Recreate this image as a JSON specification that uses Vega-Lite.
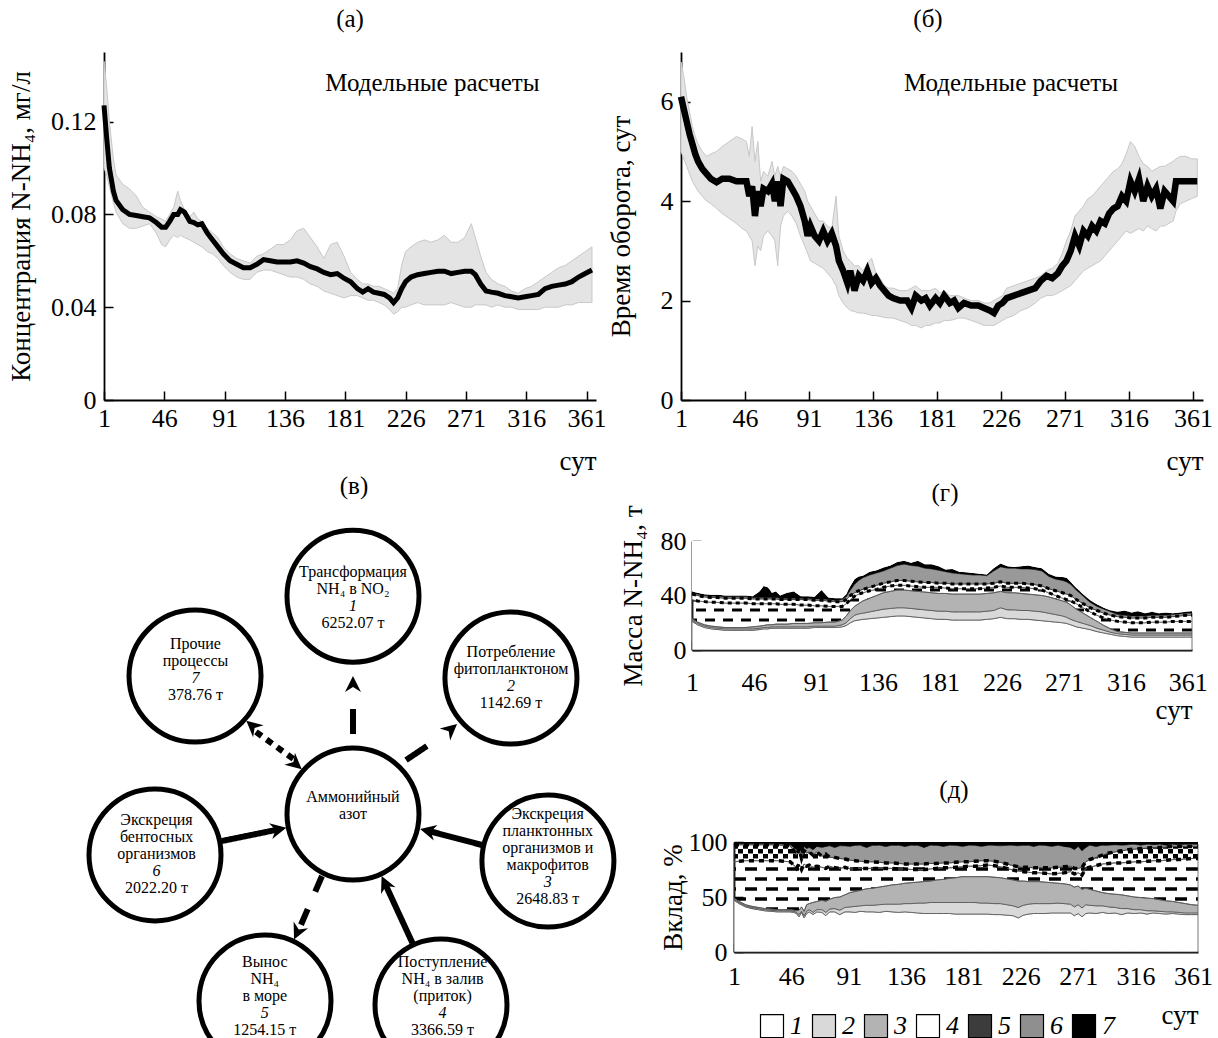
{
"$schema": "https://vega.github.io/schema/vega-lite/v6.json",
"background": "white",
"padding": {"left": 7, "top": 7, "right": 5, "bottom": 5},
"config": {
 "view": {"stroke": null},
 "font": "Liberation Serif",
 "axis": {"domainColor": "black", "domainWidth": 1.8, "tickColor": "black", "tickWidth": 1.5, "tickSize": -9, "labelFont": "Liberation Serif", "labelFontSize": 26, "labelColor": "black", "titleFont": "Liberation Serif", "titleFontSize": 27, "titleFontWeight": "normal", "titleColor": "black", "grid": false, "labelFlush": false, "labelOverlap": false, "labelBound": false},
 "title": {"font": "Liberation Serif", "fontSize": 25, "fontWeight": "normal", "color": "black", "frame": "group", "anchor": "middle"},
 "text": {"font": "Liberation Serif", "color": "black"}
},
"datasets": {
 "a": [
  {"d":1,"m":0.127,"lo":0.100,"hi":0.146},{"d":3,"m":0.113,"lo":0.097,"hi":0.135},{"d":5,"m":0.100,"lo":0.092,"hi":0.120},{"d":8,"m":0.090,"lo":0.085,"hi":0.104},{"d":10,"m":0.086,"lo":0.081,"hi":0.097},{"d":15,"m":0.082,"lo":0.076,"hi":0.093},{"d":20,"m":0.080,"lo":0.074,"hi":0.091},{"d":25,"m":0.0795,"lo":0.074,"hi":0.088},{"d":30,"m":0.079,"lo":0.075,"hi":0.083},{"d":35,"m":0.0785,"lo":0.076,"hi":0.081},{"d":40,"m":0.0765,"lo":0.072,"hi":0.079},{"d":44,"m":0.0745,"lo":0.067,"hi":0.078},{"d":47,"m":0.0745,"lo":0.066,"hi":0.077},{"d":50,"m":0.077,"lo":0.069,"hi":0.080},{"d":53,"m":0.080,"lo":0.071,"hi":0.083},{"d":56,"m":0.080,"lo":0.070,"hi":0.090},{"d":58,"m":0.082,"lo":0.071,"hi":0.086},{"d":61,"m":0.081,"lo":0.070,"hi":0.082},{"d":65,"m":0.077,"lo":0.069,"hi":0.079},{"d":68,"m":0.0765,"lo":0.068,"hi":0.081},{"d":71,"m":0.0755,"lo":0.067,"hi":0.078},{"d":74,"m":0.076,"lo":0.066,"hi":0.077},{"d":78,"m":0.072,"lo":0.064,"hi":0.074},{"d":82,"m":0.069,"lo":0.063,"hi":0.072},{"d":86,"m":0.066,"lo":0.061,"hi":0.070},{"d":90,"m":0.063,"lo":0.058,"hi":0.066},{"d":95,"m":0.060,"lo":0.055,"hi":0.063},{"d":100,"m":0.0585,"lo":0.053,"hi":0.061},{"d":105,"m":0.057,"lo":0.052,"hi":0.060},{"d":110,"m":0.057,"lo":0.052,"hi":0.059},{"d":115,"m":0.0585,"lo":0.055,"hi":0.062},{"d":120,"m":0.0605,"lo":0.056,"hi":0.063},{"d":125,"m":0.060,"lo":0.056,"hi":0.065},{"d":130,"m":0.0595,"lo":0.055,"hi":0.067},{"d":135,"m":0.0595,"lo":0.054,"hi":0.067},{"d":140,"m":0.0595,"lo":0.053,"hi":0.069},{"d":145,"m":0.060,"lo":0.053,"hi":0.073},{"d":150,"m":0.059,"lo":0.052,"hi":0.074},{"d":155,"m":0.0575,"lo":0.050,"hi":0.070},{"d":160,"m":0.0565,"lo":0.049,"hi":0.066},{"d":165,"m":0.055,"lo":0.047,"hi":0.061},{"d":170,"m":0.054,"lo":0.046,"hi":0.067},{"d":175,"m":0.0545,"lo":0.045,"hi":0.068},{"d":180,"m":0.0525,"lo":0.044,"hi":0.062},{"d":185,"m":0.051,"lo":0.045,"hi":0.055},{"d":190,"m":0.048,"lo":0.045,"hi":0.052},{"d":194,"m":0.0465,"lo":0.044,"hi":0.050},{"d":198,"m":0.048,"lo":0.043,"hi":0.050},{"d":202,"m":0.0465,"lo":0.043,"hi":0.049},{"d":206,"m":0.046,"lo":0.042,"hi":0.049},{"d":210,"m":0.0455,"lo":0.041,"hi":0.048},{"d":214,"m":0.044,"lo":0.039,"hi":0.047},{"d":217,"m":0.042,"lo":0.037,"hi":0.046},{"d":220,"m":0.044,"lo":0.038,"hi":0.048},{"d":223,"m":0.048,"lo":0.040,"hi":0.058},{"d":226,"m":0.051,"lo":0.040,"hi":0.064},{"d":230,"m":0.053,"lo":0.041,"hi":0.066},{"d":235,"m":0.054,"lo":0.042,"hi":0.068},{"d":240,"m":0.0545,"lo":0.041,"hi":0.069},{"d":245,"m":0.055,"lo":0.041,"hi":0.068},{"d":250,"m":0.0555,"lo":0.041,"hi":0.069},{"d":255,"m":0.0555,"lo":0.041,"hi":0.071},{"d":260,"m":0.0545,"lo":0.042,"hi":0.068},{"d":265,"m":0.055,"lo":0.041,"hi":0.068},{"d":270,"m":0.0555,"lo":0.040,"hi":0.070},{"d":275,"m":0.0555,"lo":0.040,"hi":0.076},{"d":278,"m":0.054,"lo":0.041,"hi":0.070},{"d":282,"m":0.050,"lo":0.041,"hi":0.062},{"d":286,"m":0.047,"lo":0.041,"hi":0.055},{"d":290,"m":0.0465,"lo":0.040,"hi":0.052},{"d":295,"m":0.046,"lo":0.041,"hi":0.050},{"d":300,"m":0.045,"lo":0.040,"hi":0.049},{"d":305,"m":0.0445,"lo":0.040,"hi":0.047},{"d":310,"m":0.044,"lo":0.039,"hi":0.046},{"d":315,"m":0.0445,"lo":0.039,"hi":0.048},{"d":320,"m":0.045,"lo":0.039,"hi":0.049},{"d":325,"m":0.0455,"lo":0.039,"hi":0.051},{"d":330,"m":0.048,"lo":0.040,"hi":0.053},{"d":335,"m":0.049,"lo":0.040,"hi":0.055},{"d":340,"m":0.0495,"lo":0.040,"hi":0.057},{"d":345,"m":0.050,"lo":0.041,"hi":0.058},{"d":350,"m":0.051,"lo":0.041,"hi":0.060},{"d":355,"m":0.053,"lo":0.042,"hi":0.062},{"d":360,"m":0.0545,"lo":0.042,"hi":0.064},{"d":365,"m":0.056,"lo":0.042,"hi":0.066}
 ],
 "b": [
  {"d":1,"m":6.1,"lo":5.0,"hi":6.8},{"d":3,"m":5.85,"lo":4.85,"hi":6.5},{"d":5,"m":5.6,"lo":4.7,"hi":6.1},{"d":7,"m":5.35,"lo":4.55,"hi":5.8},{"d":9,"m":5.15,"lo":4.4,"hi":5.5},{"d":11,"m":4.95,"lo":4.3,"hi":5.3},{"d":13,"m":4.8,"lo":4.2,"hi":5.15},{"d":16,"m":4.65,"lo":4.1,"hi":5.0},{"d":19,"m":4.55,"lo":4.0,"hi":4.9},{"d":22,"m":4.45,"lo":3.95,"hi":4.95},{"d":26,"m":4.38,"lo":3.85,"hi":5.0},{"d":30,"m":4.45,"lo":3.75,"hi":5.1},{"d":35,"m":4.45,"lo":3.65,"hi":5.2},{"d":40,"m":4.4,"lo":3.55,"hi":5.3},{"d":44,"m":4.4,"lo":3.45,"hi":5.25},{"d":47,"m":4.4,"lo":3.4,"hi":5.2},{"d":49,"m":4.1,"lo":3.3,"hi":4.9},{"d":51,"m":4.3,"lo":3.2,"hi":5.5},{"d":53,"m":3.7,"lo":2.7,"hi":4.8},{"d":55,"m":4.2,"lo":3.1,"hi":5.2},{"d":57,"m":3.9,"lo":3.0,"hi":4.4},{"d":59,"m":4.25,"lo":3.3,"hi":4.6},{"d":62,"m":4.2,"lo":3.4,"hi":4.5},{"d":65,"m":4.35,"lo":3.3,"hi":4.8},{"d":67,"m":4.0,"lo":3.2,"hi":4.5},{"d":69,"m":4.4,"lo":2.7,"hi":4.7},{"d":71,"m":3.9,"lo":3.5,"hi":4.5},{"d":73,"m":4.45,"lo":3.7,"hi":4.7},{"d":76,"m":4.4,"lo":3.8,"hi":4.65},{"d":79,"m":4.25,"lo":3.7,"hi":4.6},{"d":82,"m":4.1,"lo":3.55,"hi":4.5},{"d":85,"m":3.9,"lo":3.3,"hi":4.35},{"d":88,"m":3.6,"lo":3.1,"hi":4.2},{"d":90,"m":3.3,"lo":2.95,"hi":4.0},{"d":92,"m":3.5,"lo":2.8,"hi":3.9},{"d":95,"m":3.3,"lo":2.75,"hi":3.75},{"d":98,"m":3.2,"lo":2.7,"hi":3.6},{"d":101,"m":3.4,"lo":2.65,"hi":3.6},{"d":104,"m":3.2,"lo":2.55,"hi":3.5},{"d":107,"m":3.35,"lo":2.45,"hi":3.45},{"d":110,"m":3.1,"lo":2.3,"hi":4.1},{"d":112,"m":2.8,"lo":2.1,"hi":3.3},{"d":115,"m":2.6,"lo":1.95,"hi":3.0},{"d":118,"m":2.35,"lo":1.85,"hi":2.85},{"d":120,"m":2.6,"lo":1.8,"hi":2.8},{"d":123,"m":2.2,"lo":1.78,"hi":2.7},{"d":126,"m":2.5,"lo":1.75,"hi":2.7},{"d":129,"m":2.4,"lo":1.75,"hi":2.6},{"d":132,"m":2.6,"lo":1.73,"hi":2.75},{"d":135,"m":2.35,"lo":1.7,"hi":2.85},{"d":138,"m":2.45,"lo":1.7,"hi":2.55},{"d":141,"m":2.3,"lo":1.68,"hi":2.45},{"d":144,"m":2.2,"lo":1.66,"hi":2.3},{"d":147,"m":2.1,"lo":1.65,"hi":2.25},{"d":150,"m":2.05,"lo":1.65,"hi":2.25},{"d":155,"m":2.0,"lo":1.6,"hi":2.2},{"d":160,"m":2.0,"lo":1.55,"hi":2.2},{"d":163,"m":1.85,"lo":1.5,"hi":2.25},{"d":166,"m":2.1,"lo":1.5,"hi":2.3},{"d":170,"m":2.0,"lo":1.45,"hi":2.2},{"d":173,"m":2.05,"lo":1.5,"hi":2.2},{"d":176,"m":1.9,"lo":1.5,"hi":2.2},{"d":180,"m":2.05,"lo":1.55,"hi":2.25},{"d":183,"m":1.95,"lo":1.55,"hi":2.15},{"d":186,"m":2.1,"lo":1.6,"hi":2.2},{"d":190,"m":1.95,"lo":1.6,"hi":2.1},{"d":193,"m":2.0,"lo":1.62,"hi":2.1},{"d":196,"m":1.85,"lo":1.65,"hi":2.1},{"d":200,"m":1.95,"lo":1.65,"hi":2.05},{"d":205,"m":1.9,"lo":1.6,"hi":2.0},{"d":210,"m":1.9,"lo":1.55,"hi":2.0},{"d":214,"m":1.85,"lo":1.5,"hi":1.95},{"d":218,"m":1.8,"lo":1.5,"hi":1.95},{"d":221,"m":1.75,"lo":1.5,"hi":2.0},{"d":224,"m":1.9,"lo":1.55,"hi":2.05},{"d":227,"m":1.95,"lo":1.6,"hi":2.1},{"d":230,"m":2.05,"lo":1.65,"hi":2.25},{"d":235,"m":2.1,"lo":1.7,"hi":2.3},{"d":240,"m":2.15,"lo":1.8,"hi":2.35},{"d":245,"m":2.2,"lo":1.85,"hi":2.4},{"d":250,"m":2.25,"lo":1.95,"hi":2.45},{"d":254,"m":2.4,"lo":2.05,"hi":2.5},{"d":258,"m":2.5,"lo":2.1,"hi":2.6},{"d":262,"m":2.45,"lo":2.1,"hi":2.65},{"d":266,"m":2.55,"lo":2.15,"hi":2.75},{"d":269,"m":2.7,"lo":2.2,"hi":2.95},{"d":272,"m":2.8,"lo":2.25,"hi":3.2},{"d":275,"m":3.0,"lo":2.3,"hi":3.4},{"d":278,"m":3.3,"lo":2.4,"hi":3.7},{"d":281,"m":3.1,"lo":2.5,"hi":3.8},{"d":284,"m":3.4,"lo":2.6,"hi":3.9},{"d":287,"m":3.3,"lo":2.65,"hi":4.05},{"d":290,"m":3.5,"lo":2.7,"hi":4.1},{"d":293,"m":3.4,"lo":2.75,"hi":4.2},{"d":296,"m":3.6,"lo":2.8,"hi":4.3},{"d":299,"m":3.55,"lo":2.9,"hi":4.4},{"d":302,"m":3.75,"lo":3.0,"hi":4.5},{"d":305,"m":3.85,"lo":3.1,"hi":4.6},{"d":308,"m":3.9,"lo":3.2,"hi":4.65},{"d":311,"m":4.1,"lo":3.3,"hi":4.75},{"d":314,"m":4.0,"lo":3.4,"hi":4.95},{"d":317,"m":4.4,"lo":3.35,"hi":5.2},{"d":320,"m":4.2,"lo":3.4,"hi":5.1},{"d":323,"m":4.45,"lo":3.45,"hi":4.9},{"d":326,"m":4.0,"lo":3.4,"hi":4.75},{"d":329,"m":4.3,"lo":3.5,"hi":4.7},{"d":332,"m":4.1,"lo":3.45,"hi":4.6},{"d":335,"m":4.25,"lo":3.4,"hi":4.65},{"d":338,"m":3.85,"lo":3.5,"hi":4.7},{"d":341,"m":4.2,"lo":3.5,"hi":4.7},{"d":344,"m":4.1,"lo":3.55,"hi":4.75},{"d":347,"m":4.0,"lo":3.6,"hi":4.8},{"d":349,"m":4.4,"lo":3.8,"hi":4.85},{"d":352,"m":4.4,"lo":3.95,"hi":4.9},{"d":356,"m":4.4,"lo":4.0,"hi":4.9},{"d":360,"m":4.4,"lo":4.05,"hi":4.85},{"d":364,"m":4.4,"lo":4.1,"hi":4.85}
 ],
 "g": [
  {"d":1,"b1":21,"b2":22,"b3":23,"b4":37,"b5":41,"b6":42,"b7":43},{"d":5,"b1":18.5,"b2":19.5,"b3":20.5,"b4":36,"b5":40,"b6":41,"b7":42},{"d":10,"b1":16.5,"b2":17.5,"b3":18.5,"b4":35.5,"b5":39,"b6":40,"b7":41},{"d":15,"b1":15.5,"b2":16.5,"b3":17.5,"b4":35,"b5":38.5,"b6":39.5,"b7":40.5},{"d":20,"b1":15,"b2":16,"b3":17,"b4":35,"b5":38.5,"b6":39.5,"b7":40.5},{"d":25,"b1":14.5,"b2":15.5,"b3":16.5,"b4":34.5,"b5":38,"b6":39,"b7":40},{"d":30,"b1":14.5,"b2":15.5,"b3":16.5,"b4":34.5,"b5":38,"b6":39,"b7":40},{"d":35,"b1":14.5,"b2":15.5,"b3":16.5,"b4":34.5,"b5":38,"b6":39,"b7":40},{"d":40,"b1":14.5,"b2":15.5,"b3":16.5,"b4":34.5,"b5":38,"b6":39,"b7":40},{"d":45,"b1":14.5,"b2":15.5,"b3":17,"b4":34,"b5":37.5,"b6":38.5,"b7":39.5},{"d":50,"b1":15,"b2":16,"b3":17.5,"b4":34,"b5":37.5,"b6":38.5,"b7":43},{"d":53,"b1":15.5,"b2":16.5,"b3":18,"b4":34,"b5":37.5,"b6":38.5,"b7":47},{"d":56,"b1":15.5,"b2":16.5,"b3":18.5,"b4":34,"b5":37.5,"b6":38.5,"b7":46},{"d":59,"b1":16,"b2":17,"b3":18.5,"b4":34,"b5":37.5,"b6":38.5,"b7":42},{"d":62,"b1":16,"b2":17,"b3":19,"b4":34,"b5":37.5,"b6":38.5,"b7":43},{"d":65,"b1":16,"b2":17,"b3":19,"b4":33.5,"b5":37,"b6":38,"b7":40},{"d":70,"b1":16,"b2":17,"b3":19,"b4":33.5,"b5":37,"b6":38,"b7":42},{"d":75,"b1":16,"b2":17,"b3":19.5,"b4":33.5,"b5":37,"b6":38,"b7":43},{"d":80,"b1":16,"b2":17,"b3":19.5,"b4":33,"b5":37,"b6":38,"b7":39.5},{"d":85,"b1":16,"b2":17,"b3":19.5,"b4":33,"b5":37,"b6":38,"b7":39.5},{"d":90,"b1":16.5,"b2":17.5,"b3":20,"b4":32.5,"b5":36.5,"b6":37.5,"b7":39},{"d":95,"b1":16.5,"b2":17.5,"b3":20,"b4":32.5,"b5":36.5,"b6":37.5,"b7":44},{"d":100,"b1":16.5,"b2":17.5,"b3":20.5,"b4":32,"b5":36,"b6":37,"b7":38.5},{"d":105,"b1":16.5,"b2":17.5,"b3":20.5,"b4":32,"b5":35.5,"b6":36.5,"b7":38},{"d":110,"b1":17,"b2":18.5,"b3":22,"b4":32,"b5":35.5,"b6":37,"b7":38},{"d":113,"b1":18,"b2":20,"b3":25,"b4":34,"b5":37,"b6":39,"b7":41},{"d":116,"b1":20,"b2":23,"b3":29,"b4":37,"b5":40,"b6":44,"b7":47},{"d":119,"b1":21.5,"b2":25.5,"b3":32,"b4":39.5,"b5":42,"b6":48,"b7":52},{"d":122,"b1":22,"b2":26.5,"b3":34,"b4":41,"b5":43.5,"b6":51,"b7":54},{"d":125,"b1":22.5,"b2":27,"b3":36,"b4":42,"b5":44.5,"b6":53,"b7":54.5},{"d":130,"b1":23,"b2":28,"b3":38,"b4":43.5,"b5":46,"b6":55,"b7":57.5},{"d":135,"b1":23.5,"b2":29,"b3":40,"b4":44.5,"b5":47.5,"b6":56.5,"b7":58.5},{"d":140,"b1":24,"b2":30,"b3":42,"b4":46,"b5":49,"b6":58,"b7":60.5},{"d":145,"b1":24.5,"b2":30.5,"b3":43,"b4":47,"b5":50,"b6":60,"b7":62},{"d":150,"b1":25,"b2":31,"b3":44,"b4":47.5,"b5":51,"b6":62,"b7":64.5},{"d":155,"b1":25,"b2":31,"b3":44,"b4":47.5,"b5":51,"b6":63,"b7":65.5},{"d":160,"b1":24.5,"b2":30.5,"b3":43.5,"b4":47,"b5":50.5,"b6":62,"b7":64},{"d":165,"b1":24,"b2":30,"b3":43,"b4":46.5,"b5":50,"b6":61.5,"b7":65.5},{"d":170,"b1":23.5,"b2":29.5,"b3":42.5,"b4":46,"b5":49.5,"b6":60,"b7":63},{"d":175,"b1":23,"b2":29,"b3":42,"b4":46,"b5":49.5,"b6":59.5,"b7":63},{"d":180,"b1":22.5,"b2":28.5,"b3":41.5,"b4":46,"b5":49,"b6":58.5,"b7":61.5},{"d":185,"b1":22.5,"b2":28.5,"b3":41.5,"b4":45.5,"b5":49,"b6":57.5,"b7":59},{"d":190,"b1":22,"b2":28,"b3":41,"b4":45,"b5":48.5,"b6":56.5,"b7":59.5},{"d":195,"b1":22,"b2":28,"b3":41,"b4":45,"b5":48.5,"b6":56,"b7":57.5},{"d":200,"b1":22,"b2":28,"b3":41,"b4":45,"b5":48.5,"b6":55.5,"b7":57},{"d":205,"b1":22,"b2":28,"b3":41,"b4":45,"b5":48.5,"b6":55,"b7":56.5},{"d":210,"b1":22,"b2":28,"b3":41,"b4":45,"b5":48.5,"b6":55,"b7":56},{"d":215,"b1":22.5,"b2":28.5,"b3":41.5,"b4":45.5,"b5":48.5,"b6":54.5,"b7":55.5},{"d":220,"b1":23,"b2":29,"b3":42,"b4":46,"b5":49,"b6":58,"b7":60},{"d":225,"b1":24,"b2":31,"b3":43,"b4":47,"b5":50,"b6":61,"b7":63.5},{"d":230,"b1":23,"b2":29.5,"b3":42,"b4":46,"b5":49,"b6":60,"b7":61.5},{"d":235,"b1":23,"b2":29.5,"b3":42,"b4":46,"b5":49,"b6":60,"b7":61},{"d":240,"b1":22.5,"b2":29,"b3":41.5,"b4":46,"b5":49,"b6":59.5,"b7":61.5},{"d":245,"b1":22.5,"b2":29,"b3":41,"b4":45.5,"b5":48.5,"b6":59.5,"b7":62},{"d":250,"b1":22,"b2":28.5,"b3":40.5,"b4":45,"b5":48,"b6":59,"b7":61},{"d":255,"b1":21.5,"b2":28,"b3":40,"b4":44,"b5":47,"b6":58,"b7":60},{"d":260,"b1":21,"b2":27,"b3":39,"b4":42,"b5":45,"b6":54,"b7":56},{"d":265,"b1":20.5,"b2":26,"b3":37.5,"b4":40,"b5":43.5,"b6":52,"b7":54},{"d":270,"b1":20,"b2":25,"b3":36,"b4":38,"b5":42,"b6":51,"b7":53.5},{"d":273,"b1":19.5,"b2":24,"b3":35,"b4":37,"b5":41,"b6":50,"b7":53},{"d":276,"b1":18.5,"b2":22.5,"b3":33,"b4":36,"b5":40,"b6":48,"b7":50},{"d":280,"b1":17,"b2":21,"b3":30,"b4":34,"b5":37,"b6":44,"b7":45.5},{"d":285,"b1":16,"b2":19.5,"b3":27,"b4":31,"b5":34,"b6":39.5,"b7":41},{"d":290,"b1":15,"b2":18,"b3":24,"b4":28,"b5":31,"b6":35,"b7":36.5},{"d":295,"b1":13.5,"b2":16,"b3":21,"b4":25.5,"b5":29,"b6":32,"b7":33.5},{"d":300,"b1":12.5,"b2":14.5,"b3":18,"b4":23.5,"b5":27,"b6":30,"b7":31},{"d":305,"b1":11.5,"b2":13,"b3":15.5,"b4":22,"b5":25.5,"b6":28,"b7":29},{"d":310,"b1":10.5,"b2":12,"b3":13.5,"b4":21,"b5":24.5,"b6":26,"b7":28},{"d":315,"b1":10,"b2":11.5,"b3":13,"b4":20.5,"b5":24,"b6":25.5,"b7":29},{"d":320,"b1":9.5,"b2":11,"b3":12.5,"b4":20,"b5":23.5,"b6":25,"b7":27.5},{"d":325,"b1":9.5,"b2":11,"b3":12.5,"b4":20,"b5":23.5,"b6":25,"b7":28.5},{"d":330,"b1":9.5,"b2":11,"b3":12.5,"b4":20,"b5":23.5,"b6":25,"b7":27},{"d":335,"b1":9.5,"b2":11,"b3":12.5,"b4":20.5,"b5":24,"b6":25.5,"b7":28},{"d":340,"b1":9.5,"b2":11,"b3":12.5,"b4":20.5,"b5":24,"b6":25.5,"b7":27},{"d":345,"b1":9.5,"b2":11,"b3":12.5,"b4":20.5,"b5":24,"b6":25.5,"b7":27.5},{"d":350,"b1":9.5,"b2":11,"b3":12.5,"b4":21,"b5":24.5,"b6":26,"b7":27},{"d":355,"b1":9.5,"b2":11,"b3":12.5,"b4":21,"b5":25,"b6":26.5,"b7":27.5},{"d":360,"b1":9.5,"b2":11,"b3":12.5,"b4":21,"b5":25.5,"b6":27,"b7":28},{"d":364,"b1":9.5,"b2":11,"b3":12.5,"b4":21,"b5":25.5,"b6":27,"b7":28.5}
 ],
 "p": [
  {"d":1,"b1":47,"b2":48,"b3":49,"b4":82,"b5":97.5,"b6":98.5},{"d":5,"b1":44,"b2":45,"b3":46,"b4":82.5,"b5":97.5,"b6":98.5},{"d":10,"b1":41,"b2":42,"b3":43,"b4":83,"b5":97.5,"b6":98.5},{"d":15,"b1":39.5,"b2":40.5,"b3":41.5,"b4":83,"b5":97.5,"b6":98.5},{"d":20,"b1":38.5,"b2":39.5,"b3":40.5,"b4":83,"b5":97.5,"b6":98.5},{"d":25,"b1":37.5,"b2":38.5,"b3":39.5,"b4":83,"b5":97.5,"b6":98.5},{"d":30,"b1":37,"b2":38,"b3":39,"b4":83,"b5":97.5,"b6":98.5},{"d":35,"b1":36.5,"b2":37.5,"b3":38.5,"b4":83,"b5":97.5,"b6":98.5},{"d":40,"b1":36.5,"b2":37.5,"b3":38.5,"b4":82.5,"b5":97,"b6":98},{"d":45,"b1":36.5,"b2":37.5,"b3":38.5,"b4":82,"b5":96.5,"b6":97.5},{"d":48,"b1":36,"b2":37,"b3":38,"b4":79,"b5":92,"b6":95},{"d":50,"b1":35,"b2":36,"b3":37.5,"b4":76,"b5":88,"b6":93},{"d":52,"b1":32,"b2":34,"b3":38,"b4":80,"b5":94,"b6":96},{"d":54,"b1":36,"b2":37,"b3":41,"b4":75,"b5":85,"b6":90},{"d":56,"b1":31,"b2":33,"b3":37,"b4":80,"b5":92,"b6":96},{"d":58,"b1":35,"b2":37,"b3":43,"b4":78,"b5":90,"b6":94},{"d":60,"b1":36.5,"b2":38.5,"b3":44,"b4":79,"b5":91,"b6":95},{"d":63,"b1":34,"b2":36,"b3":45,"b4":77,"b5":88,"b6":93},{"d":66,"b1":36.5,"b2":38.5,"b3":46,"b4":78,"b5":91,"b6":96},{"d":70,"b1":36,"b2":38.5,"b3":47,"b4":77,"b5":87,"b6":95},{"d":73,"b1":33,"b2":36,"b3":46,"b4":76,"b5":89,"b6":96},{"d":76,"b1":36.5,"b2":39,"b3":48,"b4":78,"b5":86,"b6":96.5},{"d":80,"b1":36.5,"b2":39.5,"b3":49.5,"b4":76.5,"b5":86,"b6":95},{"d":84,"b1":34,"b2":38,"b3":50,"b4":76,"b5":85,"b6":96.5},{"d":88,"b1":36.5,"b2":40.5,"b3":52,"b4":77,"b5":84.5,"b6":96.5},{"d":92,"b1":36.5,"b2":41,"b3":54,"b4":75.5,"b5":83.5,"b6":96},{"d":96,"b1":36,"b2":41.5,"b3":55,"b4":75.5,"b5":83,"b6":97},{"d":100,"b1":37,"b2":42,"b3":56,"b4":76,"b5":82.5,"b6":97},{"d":105,"b1":36.5,"b2":42.5,"b3":57.5,"b4":76,"b5":82,"b6":95},{"d":110,"b1":36.5,"b2":42.5,"b3":58,"b4":76,"b5":82,"b6":97},{"d":115,"b1":36,"b2":43,"b3":59,"b4":76,"b5":81.5,"b6":97},{"d":120,"b1":37,"b2":43.5,"b3":60,"b4":76,"b5":81,"b6":96},{"d":125,"b1":36.5,"b2":43.5,"b3":61,"b4":76,"b5":81,"b6":97},{"d":130,"b1":36,"b2":43.5,"b3":61.5,"b4":75.5,"b5":80.5,"b6":97},{"d":135,"b1":36.5,"b2":44,"b3":62.5,"b4":75.5,"b5":80,"b6":96},{"d":140,"b1":36,"b2":44,"b3":63,"b4":75,"b5":80,"b6":97},{"d":145,"b1":35.5,"b2":44.5,"b3":63.5,"b4":75,"b5":80,"b6":97},{"d":150,"b1":35,"b2":44.5,"b3":64,"b4":75,"b5":80,"b6":95},{"d":155,"b1":35,"b2":45,"b3":64.5,"b4":75.5,"b5":80.5,"b6":97},{"d":160,"b1":35,"b2":45,"b3":65.5,"b4":76,"b5":80.5,"b6":97},{"d":165,"b1":35,"b2":45,"b3":66,"b4":76.5,"b5":81,"b6":96},{"d":170,"b1":35,"b2":45,"b3":67,"b4":76.5,"b5":81,"b6":97},{"d":175,"b1":34.5,"b2":45,"b3":67.5,"b4":77,"b5":81.5,"b6":97},{"d":180,"b1":34.5,"b2":45,"b3":68.5,"b4":77.5,"b5":82,"b6":96},{"d":185,"b1":34.5,"b2":45,"b3":68.5,"b4":78,"b5":82,"b6":97},{"d":190,"b1":34.5,"b2":45,"b3":68.5,"b4":78,"b5":82.5,"b6":97},{"d":195,"b1":34.5,"b2":44.5,"b3":68.5,"b4":78.5,"b5":83,"b6":96},{"d":200,"b1":34.5,"b2":44.5,"b3":68.5,"b4":79,"b5":83,"b6":97},{"d":205,"b1":34,"b2":44,"b3":68,"b4":78.5,"b5":82.5,"b6":97},{"d":210,"b1":34,"b2":44,"b3":67.5,"b4":77.5,"b5":81.5,"b6":96.5},{"d":215,"b1":33.5,"b2":43,"b3":66.5,"b4":76,"b5":80,"b6":97},{"d":220,"b1":33,"b2":42,"b3":65.5,"b4":74.5,"b5":78.5,"b6":97},{"d":224,"b1":31,"b2":40.5,"b3":64.5,"b4":73.5,"b5":77.5,"b6":96.5},{"d":228,"b1":33.5,"b2":42.5,"b3":64.5,"b4":73,"b5":77,"b6":97},{"d":232,"b1":34.5,"b2":43.5,"b3":64,"b4":72.5,"b5":77,"b6":97},{"d":236,"b1":35,"b2":44,"b3":64,"b4":72,"b5":76.5,"b6":96},{"d":240,"b1":35,"b2":44,"b3":64,"b4":72,"b5":76.5,"b6":97},{"d":245,"b1":35,"b2":44,"b3":63.5,"b4":71.5,"b5":76.5,"b6":97},{"d":250,"b1":35.5,"b2":44,"b3":63,"b4":71,"b5":76.5,"b6":96},{"d":255,"b1":35.5,"b2":44.5,"b3":62.5,"b4":71.5,"b5":77,"b6":97},{"d":260,"b1":35.5,"b2":44,"b3":62,"b4":72,"b5":77.5,"b6":96},{"d":265,"b1":35.5,"b2":43.5,"b3":61,"b4":73,"b5":78,"b6":95},{"d":268,"b1":33,"b2":41,"b3":59,"b4":71,"b5":76,"b6":93},{"d":271,"b1":35,"b2":43,"b3":60,"b4":72,"b5":76,"b6":96},{"d":274,"b1":32,"b2":40,"b3":57,"b4":70,"b5":77,"b6":92},{"d":277,"b1":35,"b2":43,"b3":58,"b4":76,"b5":82,"b6":95},{"d":280,"b1":35.5,"b2":42.5,"b3":57,"b4":77,"b5":84,"b6":97},{"d":285,"b1":35,"b2":42,"b3":55.5,"b4":78.5,"b5":86,"b6":96},{"d":290,"b1":36,"b2":42,"b3":54,"b4":80,"b5":88,"b6":97},{"d":295,"b1":35,"b2":41,"b3":53,"b4":80.5,"b5":90,"b6":97},{"d":300,"b1":35.5,"b2":40.5,"b3":52.5,"b4":81,"b5":91,"b6":97.5},{"d":305,"b1":34,"b2":39.5,"b3":52,"b4":81,"b5":92,"b6":97},{"d":310,"b1":35.5,"b2":39.5,"b3":51,"b4":81.5,"b5":93,"b6":97.5},{"d":315,"b1":35,"b2":38.5,"b3":50,"b4":82,"b5":93.5,"b6":98},{"d":320,"b1":35.5,"b2":38.5,"b3":49.5,"b4":82,"b5":94,"b6":97},{"d":325,"b1":34.5,"b2":37.5,"b3":49,"b4":82.5,"b5":94.5,"b6":98},{"d":330,"b1":35.5,"b2":37.5,"b3":48.5,"b4":83,"b5":95,"b6":97.5},{"d":335,"b1":35,"b2":37,"b3":47.5,"b4":83,"b5":95,"b6":98},{"d":340,"b1":34.5,"b2":36.5,"b3":46.5,"b4":83.5,"b5":95.5,"b6":97},{"d":345,"b1":35,"b2":36.5,"b3":46,"b4":84,"b5":96,"b6":98},{"d":350,"b1":34.5,"b2":36,"b3":45,"b4":84,"b5":96,"b6":97.5},{"d":355,"b1":34,"b2":35.5,"b3":44,"b4":84.5,"b5":96,"b6":98},{"d":360,"b1":34,"b2":35.5,"b3":43,"b4":85,"b5":96,"b6":98},{"d":365,"b1":34,"b2":35.5,"b3":42.5,"b4":85,"b5":96,"b6":98}
 ],
 "nodes": [
  {"id":0,"cx":0,"cy":0},{"id":1,"cx":0,"cy":0.99},{"id":2,"cx":0.718,"cy":0.618},{"id":3,"cx":0.886,"cy":-0.214},
  {"id":4,"cx":0.4,"cy":-0.868},{"id":5,"cx":-0.4,"cy":-0.85},{"id":6,"cx":-0.9,"cy":-0.186},{"id":7,"cx":-0.718,"cy":0.627}
 ],
 "lines": [
  {"x":0,"y":0.075,"t":"Аммонийный","i":false},{"x":0,"y":-0.002,"t":"азот","i":false},
  {"x":0,"y":1.1,"t":"Трансформация","i":false},{"x":0,"y":1.023,"t":"NH₄ в NO₂","i":false},{"x":0,"y":0.945,"t":"1","i":true},{"x":0,"y":0.868,"t":"6252.07 т","i":false},
  {"x":0.718,"y":0.736,"t":"Потребление","i":false},{"x":0.718,"y":0.659,"t":"фитопланктоном","i":false},{"x":0.718,"y":0.582,"t":"2","i":true},{"x":0.718,"y":0.505,"t":"1142.69 т","i":false},
  {"x":0.885,"y":0.001,"t":"Экскреция","i":false},{"x":0.885,"y":-0.076,"t":"планктонных","i":false},{"x":0.885,"y":-0.154,"t":"организмов и","i":false},{"x":0.885,"y":-0.231,"t":"макрофитов","i":false},{"x":0.885,"y":-0.308,"t":"3","i":true},{"x":0.885,"y":-0.385,"t":"2648.83 т","i":false},
  {"x":0.407,"y":-0.673,"t":"Поступление","i":false},{"x":0.407,"y":-0.75,"t":"NH₄ в залив","i":false},{"x":0.407,"y":-0.827,"t":"(приток)","i":false},{"x":0.407,"y":-0.905,"t":"4","i":true},{"x":0.407,"y":-0.982,"t":"3366.59 т","i":false},
  {"x":-0.401,"y":-0.673,"t":"Вынос","i":false},{"x":-0.401,"y":-0.75,"t":"NH₄","i":false},{"x":-0.401,"y":-0.827,"t":"в море","i":false},{"x":-0.401,"y":-0.905,"t":"5","i":true},{"x":-0.401,"y":-0.982,"t":"1254.15 т","i":false},
  {"x":-0.893,"y":-0.027,"t":"Экскреция","i":false},{"x":-0.893,"y":-0.105,"t":"бентосных","i":false},{"x":-0.893,"y":-0.182,"t":"организмов","i":false},{"x":-0.893,"y":-0.259,"t":"6","i":true},{"x":-0.893,"y":-0.336,"t":"2022.20 т","i":false},
  {"x":-0.716,"y":0.773,"t":"Прочие","i":false},{"x":-0.716,"y":0.695,"t":"процессы","i":false},{"x":-0.716,"y":0.618,"t":"7","i":true},{"x":-0.716,"y":0.541,"t":"378.76 т","i":false}
 ],
 "shafts": [
  {"x":0,"y":0.364,"x2":0,"y2":0.477,"k":"s"},
  {"x":0.241,"y":0.245,"x2":0.336,"y2":0.309,"k":"s"},
  {"x":0.586,"y":-0.141,"x2":0.340,"y2":-0.076,"k":"s"},
  {"x":0.27,"y":-0.586,"x2":0.145,"y2":-0.315,"k":"s"},
  {"x":-0.141,"y":-0.282,"x2":-0.241,"y2":-0.514,"k":"d"},
  {"x":-0.597,"y":-0.123,"x2":-0.338,"y2":-0.070,"k":"s"},
  {"x":-0.441,"y":0.373,"x2":-0.264,"y2":0.245,"k":"o"}
 ],
 "heads": [
  {"x":0,"y":0.627,"a":0},
  {"x":0.473,"y":0.409,"a":49.3},
  {"x":0.305,"y":-0.068,"a":283.6},
  {"x":0.13,"y":-0.282,"a":335.3},
  {"x":-0.268,"y":-0.570,"a":205.2},
  {"x":-0.303,"y":-0.063,"a":78.3},
  {"x":-0.233,"y":0.203,"a":131.1},
  {"x":-0.485,"y":0.424,"a":311.1}
 ]
},
"bounds": "flush",
"spacing": 489,
"vconcat": [
 {"bounds": "flush", "spacing": 85, "hconcat": [
  {"width": 492, "height": 348,
   "title": {"text": "(а)", "offset": 20},
   "layer": [
    {"data": {"name": "a"}, "mark": {"type": "area", "color": "#e4e4e4", "stroke": "#c8c8c8", "strokeWidth": 1},
     "encoding": {
      "x": {"field": "d", "type": "quantitative", "scale": {"domain": [1, 368], "nice": false, "zero": false}, "axis": {"values": [1,46,91,136,181,226,271,316,361], "title": "сут", "titleAnchor": "end", "titleAlign": "right", "titlePadding": 17, "labelPadding": 14}},
      "y": {"field": "hi", "type": "quantitative", "scale": {"domain": [0, 0.15], "nice": false}, "axis": {"values": [0, 0.04, 0.08, 0.12], "format": ".2~f", "title": "Концентрация N-NH₄, мг/л", "titlePadding": 15, "labelPadding": 17}},
      "y2": {"field": "lo"}}},
    {"data": {"name": "a"}, "mark": {"type": "line", "color": "black", "strokeWidth": 5},
     "encoding": {"x": {"field": "d", "type": "quantitative", "title": "сут"}, "y": {"field": "m", "type": "quantitative", "title": "Концентрация N-NH₄, мг/л"}}},
    {"data": {"values": [{}]}, "mark": {"type": "text", "fontSize": 25, "align": "center", "baseline": "middle"},
     "encoding": {"x": {"datum": 246, "title": "сут"}, "y": {"datum": 0.1367, "title": "Концентрация N-NH₄, мг/л"}, "text": {"value": "Модельные расчеты"}}}
   ]},
  {"width": 522, "height": 348,
   "title": {"text": "(б)", "offset": 20, "dx": -14},
   "layer": [
    {"data": {"name": "b"}, "mark": {"type": "area", "color": "#e4e4e4", "stroke": "#c8c8c8", "strokeWidth": 1},
     "encoding": {
      "x": {"field": "d", "type": "quantitative", "scale": {"domain": [1, 368], "nice": false, "zero": false}, "axis": {"values": [1,46,91,136,181,226,271,316,361], "title": "сут", "titleAnchor": "end", "titleAlign": "right", "titlePadding": 17, "labelPadding": 14}},
      "y": {"field": "hi", "type": "quantitative", "scale": {"domain": [0, 7], "nice": false}, "axis": {"values": [0, 2, 4, 6], "title": "Время оборота, сут", "titlePadding": 25, "labelPadding": 17}},
      "y2": {"field": "lo"}}},
    {"data": {"name": "b"}, "mark": {"type": "line", "color": "black", "strokeWidth": 6.5},
     "encoding": {"x": {"field": "d", "type": "quantitative", "title": "сут"}, "y": {"field": "m", "type": "quantitative", "title": "Время оборота, сут"}}},
    {"data": {"values": [{}]}, "mark": {"type": "text", "fontSize": 25, "align": "center", "baseline": "middle"},
     "encoding": {"x": {"datum": 233, "title": "сут"}, "y": {"datum": 6.376, "title": "Время оборота, сут"}, "text": {"value": "Модельные расчеты"}}}
   ]}
 ]},
 {"bounds": "flush", "spacing": 88, "hconcat": [
  {"width": 500, "height": 497,
   "title": {"text": "(в)", "offset": 21},
   "layer": [
    {"data": {"name": "nodes"}, "mark": {"type": "point", "shape": "circle", "size": 17424, "filled": true, "fill": "white", "stroke": "black", "strokeWidth": 5, "opacity": 1},
     "encoding": {"x": {"field": "cx", "type": "quantitative", "scale": {"domain": [-1.1318, 1.1409], "nice": false, "zero": false}, "axis": null},
                  "y": {"field": "cy", "type": "quantitative", "scale": {"domain": [-1.0182, 1.2409], "nice": false, "zero": false}, "axis": null}}},
    {"data": {"name": "shafts"}, "mark": {"type": "rule", "color": "black", "strokeWidth": 6, "strokeCap": "butt"},
     "encoding": {"x": {"field": "x", "type": "quantitative", "axis": null}, "y": {"field": "y", "type": "quantitative", "axis": null},
                  "x2": {"field": "x2"}, "y2": {"field": "y2"},
                  "strokeDash": {"field": "k", "type": "nominal", "scale": {"domain": ["s", "d", "o"], "range": [[1, 0], [17, 19], [7, 6]]}, "legend": null}}},
    {"data": {"name": "heads"}, "mark": {"type": "point", "shape": "M0,0L0.8,1.6L0,1.1L-0.8,1.6Z", "size": 400, "filled": true, "color": "black", "opacity": 1},
     "encoding": {"x": {"field": "x", "type": "quantitative", "axis": null}, "y": {"field": "y", "type": "quantitative", "axis": null},
                  "angle": {"field": "a", "type": "quantitative", "scale": null}}},
    {"data": {"name": "lines"}, "transform": [{"filter": "!datum.i"}], "mark": {"type": "text", "fontSize": 16, "align": "center", "baseline": "middle"},
     "encoding": {"x": {"field": "x", "type": "quantitative", "axis": null}, "y": {"field": "y", "type": "quantitative", "axis": null}, "text": {"field": "t"}}},
    {"data": {"name": "lines"}, "transform": [{"filter": "datum.i"}], "mark": {"type": "text", "fontSize": 16, "align": "center", "baseline": "middle", "fontStyle": "italic"},
     "encoding": {"x": {"field": "x", "type": "quantitative", "axis": null}, "y": {"field": "y", "type": "quantitative", "axis": null}, "text": {"field": "t"}}}
   ]},
  {"bounds": "flush", "spacing": 192, "vconcat": [
   {"width": 500, "height": 109,
    "title": {"text": "(г)", "offset": -1.5, "dx": 3},
    "layer": [
     {"data": {"values": [{}]}, "mark": {"type": "rule", "color": "black", "strokeWidth": 3, "strokeDash": [10, 8], "strokeDashOffset": 0}, "encoding": {"y": {"datum": 14.7, "title": "Масса N-NH₄, т"}}},
     {"data": {"values": [{}]}, "mark": {"type": "rule", "color": "black", "strokeWidth": 3, "strokeDash": [10, 8], "strokeDashOffset": 9}, "encoding": {"y": {"datum": 22, "title": "Масса N-NH₄, т"}}},
     {"data": {"values": [{}]}, "mark": {"type": "rule", "color": "black", "strokeWidth": 3, "strokeDash": [10, 8], "strokeDashOffset": 0}, "encoding": {"y": {"datum": 29.4, "title": "Масса N-NH₄, т"}}},
     {"data": {"values": [{}]}, "mark": {"type": "rule", "color": "black", "strokeWidth": 3, "strokeDash": [10, 8], "strokeDashOffset": 9}, "encoding": {"y": {"datum": 36.7, "title": "Масса N-NH₄, т"}}},
     {"data": {"values": [{}]}, "mark": {"type": "rule", "color": "black", "strokeWidth": 3, "strokeDash": [10, 8], "strokeDashOffset": 0}, "encoding": {"y": {"datum": 44, "title": "Масса N-NH₄, т"}}},
     {"data": {"name": "g"}, "mark": {"type": "area", "color": "white", "stroke": "#555", "strokeWidth": 0.8},
      "encoding": {"x": {"field": "d", "type": "quantitative", "scale": {"domain": [1, 364], "nice": false, "zero": false}, "axis": {"values": [1,46,91,136,181,226,271,316,361], "title": "сут", "titleAnchor": "end", "titleAlign": "right", "titlePadding": 2, "labelPadding": 28}},
                   "y": {"field": "b1", "type": "quantitative", "scale": {"domain": [0, 80], "nice": false}, "axis": {"values": [0, 40, 80], "title": "Масса N-NH₄, т", "titlePadding": 13, "labelPadding": 15}},
                   "y2": {"datum": 0}}},
     {"data": {"name": "g"}, "mark": {"type": "area", "color": "#d9d9d9", "stroke": "#555", "strokeWidth": 0.8},
      "encoding": {"x": {"field": "d", "type": "quantitative", "title": "сут"}, "y": {"field": "b2", "type": "quantitative", "title": "Масса N-NH₄, т"}, "y2": {"field": "b1"}}},
     {"data": {"name": "g"}, "mark": {"type": "area", "color": "#b3b3b3", "stroke": "#555", "strokeWidth": 0.8},
      "encoding": {"x": {"field": "d", "type": "quantitative", "title": "сут"}, "y": {"field": "b3", "type": "quantitative", "title": "Масса N-NH₄, т"}, "y2": {"field": "b2"}}},
     {"data": {"name": "g"}, "mark": {"type": "area", "color": "white", "fillOpacity": 0, "stroke": "#555", "strokeWidth": 0.8},
      "encoding": {"x": {"field": "d", "type": "quantitative", "title": "сут"}, "y": {"field": "b4", "type": "quantitative", "title": "Масса N-NH₄, т"}, "y2": {"field": "b3"}}},
     {"data": {"name": "g"}, "mark": {"type": "area", "color": "white", "stroke": "#555", "strokeWidth": 0.8},
      "encoding": {"x": {"field": "d", "type": "quantitative", "title": "сут"}, "y": {"field": "b5", "type": "quantitative", "title": "Масса N-NH₄, т"}, "y2": {"field": "b4"}}},
     {"data": {"name": "g"}, "mark": {"type": "area", "color": "#999999", "stroke": "#333", "strokeWidth": 0.8},
      "encoding": {"x": {"field": "d", "type": "quantitative", "title": "сут"}, "y": {"field": "b6", "type": "quantitative", "title": "Масса N-NH₄, т"}, "y2": {"field": "b5"}}},
     {"data": {"name": "g"}, "mark": {"type": "area", "color": "black"},
      "encoding": {"x": {"field": "d", "type": "quantitative", "title": "сут"}, "y": {"field": "b7", "type": "quantitative", "title": "Масса N-NH₄, т"}, "y2": {"field": "b6"}}},
     {"data": {"name": "g"}, "mark": {"type": "area", "color": "white"},
      "encoding": {"x": {"field": "d", "type": "quantitative", "title": "сут"}, "y": {"field": "b7", "type": "quantitative", "title": "Масса N-NH₄, т"}, "y2": {"datum": 80}}},
     {"data": {"name": "g"}, "mark": {"type": "line", "color": "black", "strokeWidth": 3, "strokeDash": [4, 4]},
      "encoding": {"x": {"field": "d", "type": "quantitative", "title": "сут"}, "y": {"field": "b5", "type": "quantitative", "title": "Масса N-NH₄, т"}}},
     {"data": {"name": "g"}, "mark": {"type": "line", "color": "black", "strokeWidth": 3, "strokeDash": [4, 4], "strokeDashOffset": 4},
      "encoding": {"x": {"field": "d", "type": "quantitative", "title": "сут"}, "y": {"field": "b4", "type": "quantitative", "title": "Масса N-NH₄, т"}}}
    ]},
   {"bounds": "flush", "spacing": 0, "hconcat": [
    {"width": 42, "height": 110, "data": {"values": [{}]}, "mark": {"type": "text"}, "encoding": {"text": {"value": ""}}},
    {"width": 464, "height": 110,
     "title": {"text": "(д)", "offset": 26.5, "dx": -12},
     "layer": [
      {"data": {"values": [{}]}, "mark": {"type": "rule", "color": "black", "strokeWidth": 3.5, "strokeDash": [12, 9], "strokeDashOffset": 0}, "encoding": {"y": {"datum": 39.1, "title": "Вклад, %"}}},
      {"data": {"values": [{}]}, "mark": {"type": "rule", "color": "black", "strokeWidth": 3.5, "strokeDash": [12, 9], "strokeDashOffset": 10}, "encoding": {"y": {"datum": 48.2, "title": "Вклад, %"}}},
      {"data": {"values": [{}]}, "mark": {"type": "rule", "color": "black", "strokeWidth": 3.5, "strokeDash": [12, 9], "strokeDashOffset": 0}, "encoding": {"y": {"datum": 57.3, "title": "Вклад, %"}}},
      {"data": {"values": [{}]}, "mark": {"type": "rule", "color": "black", "strokeWidth": 3.5, "strokeDash": [12, 9], "strokeDashOffset": 10}, "encoding": {"y": {"datum": 66.4, "title": "Вклад, %"}}},
      {"data": {"values": [{}]}, "mark": {"type": "rule", "color": "black", "strokeWidth": 3.5, "strokeDash": [12, 9], "strokeDashOffset": 0}, "encoding": {"y": {"datum": 75.5, "title": "Вклад, %"}}},
      {"data": {"values": [{}]}, "mark": {"type": "rule", "color": "black", "strokeWidth": 4.5, "strokeDash": [5, 5], "strokeDashOffset": 0}, "encoding": {"y": {"datum": 87, "title": "Вклад, %"}}},
      {"data": {"values": [{}]}, "mark": {"type": "rule", "color": "black", "strokeWidth": 4.5, "strokeDash": [5, 5], "strokeDashOffset": 5}, "encoding": {"y": {"datum": 91.5, "title": "Вклад, %"}}},
      {"data": {"values": [{}]}, "mark": {"type": "rule", "color": "black", "strokeWidth": 4.5, "strokeDash": [5, 5], "strokeDashOffset": 0}, "encoding": {"y": {"datum": 96, "title": "Вклад, %"}}},
      {"data": {"name": "p"}, "mark": {"type": "area", "color": "white", "stroke": "#555", "strokeWidth": 0.8},
       "encoding": {"x": {"field": "d", "type": "quantitative", "scale": {"domain": [1, 365], "nice": false, "zero": false}, "axis": {"values": [1,46,91,136,181,226,271,316,361], "title": "сут", "titleAnchor": "end", "titleAlign": "right", "titlePadding": 13, "labelPadding": 20}},
                    "y": {"field": "b1", "type": "quantitative", "scale": {"domain": [0, 100], "nice": false}, "axis": {"values": [0, 50, 100], "title": "Вклад, %", "titlePadding": 1, "labelPadding": 16}},
                    "y2": {"datum": 0}}},
      {"data": {"name": "p"}, "mark": {"type": "area", "color": "#d9d9d9", "stroke": "#555", "strokeWidth": 0.8},
       "encoding": {"x": {"field": "d", "type": "quantitative", "title": "сут"}, "y": {"field": "b2", "type": "quantitative", "title": "Вклад, %"}, "y2": {"field": "b1"}}},
      {"data": {"name": "p"}, "mark": {"type": "area", "color": "#b3b3b3", "stroke": "#555", "strokeWidth": 0.8},
       "encoding": {"x": {"field": "d", "type": "quantitative", "title": "сут"}, "y": {"field": "b3", "type": "quantitative", "title": "Вклад, %"}, "y2": {"field": "b2"}}},
      {"data": {"name": "p"}, "mark": {"type": "area", "color": "white", "fillOpacity": 0, "stroke": "#555", "strokeWidth": 0.8},
       "encoding": {"x": {"field": "d", "type": "quantitative", "title": "сут"}, "y": {"field": "b4", "type": "quantitative", "title": "Вклад, %"}, "y2": {"field": "b3"}}},
      {"data": {"name": "p"}, "mark": {"type": "area", "color": "white", "fillOpacity": 0, "stroke": "#555", "strokeWidth": 0.8},
       "encoding": {"x": {"field": "d", "type": "quantitative", "title": "сут"}, "y": {"field": "b5", "type": "quantitative", "title": "Вклад, %"}, "y2": {"field": "b4"}}},
      {"data": {"name": "p"}, "mark": {"type": "area", "color": "#999999", "stroke": "#333", "strokeWidth": 0.8},
       "encoding": {"x": {"field": "d", "type": "quantitative", "title": "сут"}, "y": {"field": "b6", "type": "quantitative", "title": "Вклад, %"}, "y2": {"field": "b5"}}},
      {"data": {"name": "p"}, "mark": {"type": "area", "color": "black"},
       "encoding": {"x": {"field": "d", "type": "quantitative", "title": "сут"}, "y": {"field": "b6", "type": "quantitative", "title": "Вклад, %"}, "y2": {"datum": 100}}},
      {"data": {"name": "p"}, "mark": {"type": "line", "color": "black", "strokeWidth": 3.5, "strokeDash": [5, 5]},
       "encoding": {"x": {"field": "d", "type": "quantitative", "title": "сут"}, "y": {"field": "b5", "type": "quantitative", "title": "Вклад, %"}}},
      {"data": {"name": "p"}, "mark": {"type": "line", "color": "black", "strokeWidth": 3.5, "strokeDash": [5, 5], "strokeDashOffset": 5},
       "encoding": {"x": {"field": "d", "type": "quantitative", "title": "сут"}, "y": {"field": "b4", "type": "quantitative", "title": "Вклад, %"}}},
      {"data": {"values": [{"k":"1"},{"k":"2"},{"k":"3"},{"k":"4"},{"k":"5"},{"k":"6"},{"k":"7"}]},
       "mark": {"type": "point", "shape": "square", "filled": true, "size": 0},
       "encoding": {"color": {"field": "k", "type": "nominal",
         "scale": {"domain": ["1","2","3","4","5","6","7"], "range": ["#ffffff","#d9d9d9","#b3b3b3","#ffffff","#3c3c3c","#8f8f8f","#000000"]},
         "legend": {"orient": "none", "legendX": 655, "legendY": 961, "direction": "horizontal", "title": null, "symbolType": "square", "symbolSize": 529, "symbolOpacity": 1, "labelFont": "Liberation Serif", "labelFontSize": 26, "labelFontStyle": "italic", "labelColor": "black", "labelOffset": 5, "columnPadding": 7,
           "encode": {"symbols": {"update": {"stroke": {"value": "black"}, "strokeWidth": {"value": 1.2}, "opacity": {"value": 1}}}}}}}}
     ]}
   ]}
  ]}
 ]}
]
}
